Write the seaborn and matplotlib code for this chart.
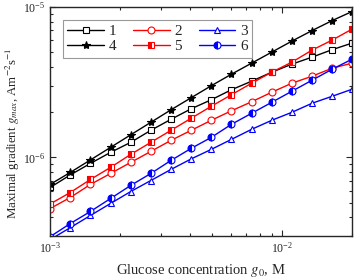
import numpy as np
import pandas as pd
import matplotlib
matplotlib.use("Agg")
import matplotlib.pyplot as plt
import matplotlib.ticker as mticker
import seaborn as sns

# glucose concentration, mM (log spaced points)
conc_mM = [1.000, 1.221, 1.492, 1.822, 2.225, 2.717, 3.319, 4.053,
           4.950, 6.045, 7.383, 9.017, 11.01, 13.45, 16.43, 20.0]

# maximal gradient, units of 1e-6 A m^-2 s^-1
g1 = [0.631, 0.764, 0.912, 1.080, 1.259, 1.514, 1.792, 2.105,
      2.417, 2.818, 3.211, 3.687, 4.169, 4.642, 5.207, 5.754]
g2 = [0.457, 0.541, 0.661, 0.782, 0.926, 1.096, 1.298, 1.514,
      1.765, 2.042, 2.344, 2.713, 3.114, 3.467, 3.920, 4.233]
g3 = [0.284, 0.341, 0.411, 0.494, 0.593, 0.702, 0.832, 0.977,
      1.131, 1.318, 1.537, 1.765, 1.995, 2.291, 2.551, 2.840]
g4 = [0.661, 0.794, 0.962, 1.166, 1.413, 1.711, 2.073, 2.493,
      2.997, 3.575, 4.233, 5.012, 5.933, 6.972, 8.128, 9.333]
g5 = [0.490, 0.584, 0.713, 0.858, 1.047, 1.259, 1.514, 1.820,
      2.188, 2.610, 3.114, 3.687, 4.300, 5.170, 6.030, 7.130]
g6 = [0.297, 0.363, 0.437, 0.533, 0.651, 0.782, 0.955, 1.148,
      1.359, 1.660, 1.965, 2.326, 2.754, 3.262, 3.861, 4.500]

labels = ["1", "2", "3", "4", "5", "6"]

sns.set_theme(style="ticks")
plt.rcParams["font.family"] = ["Liberation Serif", "DejaVu Serif"]
plt.rcParams["mathtext.fontset"] = "stix"
plt.rcParams["xtick.direction"] = "in"
plt.rcParams["ytick.direction"] = "in"

x = np.array(conc_mM) * 1e-3
series = dict(zip(labels, [g1, g2, g3, g4, g5, g6]))

styles = {
    "1": dict(color="black", marker="s", markerfacecolor="white"),
    "2": dict(color="red", marker="o", markerfacecolor="white"),
    "3": dict(color="blue", marker="^", markerfacecolor="white"),
    "4": dict(color="black", marker="*", markerfacecolor="black", markersize=6),
    "5": dict(color="red", marker="s", markerfacecolor="red", fillstyle="left",
              markerfacecoloralt="white"),
    "6": dict(color="blue", marker="o", markerfacecolor="blue", fillstyle="left",
              markerfacecoloralt="white"),
}

fig = plt.figure(figsize=(3.63, 2.80), dpi=100)
ax = fig.add_axes([0.138, 0.157, 0.832, 0.818])

for lab in labels:
    st = dict(markersize=5, markeredgewidth=0.8)
    st.update(styles[lab])
    col = st.pop("color")
    sns.lineplot(x=x, y=np.array(series[lab]) * 1e-6, ax=ax, color=col,
                 markeredgecolor=col, linewidth=1.0, label=lab, **st)

ax.set_xscale("log")
ax.set_yscale("log")
ax.set_xlim(1e-3, 2e-2)
ax.set_ylim(3e-7, 1e-5)

ax.tick_params(which="both", top=True, right=True, labelsize=8.5, width=0.8)
ax.tick_params(which="major", length=4.5)
ax.tick_params(which="minor", length=2.5)
ax.xaxis.set_minor_formatter(mticker.NullFormatter())
ax.yaxis.set_minor_formatter(mticker.NullFormatter())
for s in ax.spines.values():
    s.set_linewidth(1.0)

ax.set_xlabel("Glucose concentration $g_0$, M", fontsize=10.5, labelpad=5)
ax.set_ylabel("Maximal gradient $g_{max}$, Am$^{-2}$s$^{-1}$", fontsize=9.3)
ax.yaxis.set_label_coords(-0.093, 0.45)

h, l = ax.get_legend_handles_labels()
order = [0, 3, 1, 4, 2, 5]
leg = ax.legend([h[i] for i in order], [l[i] for i in order], ncol=3,
                loc="upper left", bbox_to_anchor=(0.017, 0.978), fontsize=11,
                handlelength=2.4, handletextpad=0.3, columnspacing=1.1,
                labelspacing=0.1, borderpad=0.3, fancybox=False, framealpha=1)
leg.get_frame().set_edgecolor("#999999")
leg.get_frame().set_linewidth(0.8)

fig.savefig("out.png", dpi=100)
